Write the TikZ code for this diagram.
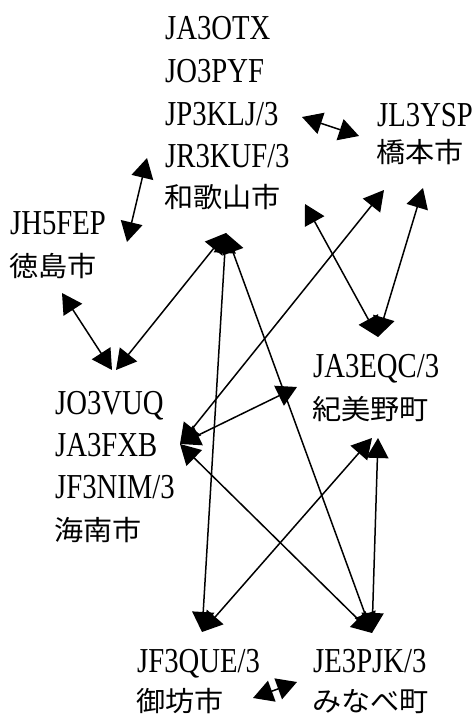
\documentclass[tikz,border=0pt]{standalone}
\usepackage{fontspec}
\setmainfont{Liberation Serif}[FakeStretch=0.82]
\newfontfamily\cjk{Noto Sans CJK JP}[FakeStretch=1.06]
\usetikzlibrary{arrows.meta}
\begin{document}
\begin{tikzpicture}[x=1pt,y=-1pt,
  lat/.style={anchor=base west, inner sep=0pt, font=\fontsize{35}{42}\selectfont},
  jp/.style={anchor=base west, inner sep=0pt, font=\cjk\fontsize{27.5}{32}\selectfont},
  link/.style={{Triangle[length=20pt,width=22pt]}-{Triangle[length=20pt,width=22pt]}, line width=1.5pt}]
\useasboundingbox (0,0) rectangle (473,715);
% labels
\node[lat] (a1) at (165,39) {JA3OTX};
\node[lat] (a2) at (165,82) {JO3PYF};
\node[lat] (a3) at (165,125) {JP3KLJ/3};
\node[lat] (a4) at (165,167) {JR3KUF/3};
\node[jp]  (a5) at (164,207) {和歌山市};
\node[lat] (b1) at (377,126) {JL3YSP};
\node[jp]  (b2) at (376,162) {橋本市};
\node[lat] (c1) at (10,234) {JH5FEP};
\node[jp]  (c2) at (9,276) {徳島市};
\node[lat] (d1) at (55,414) {JO3VUQ};
\node[lat] (d2) at (55,456) {JA3FXB};
\node[lat] (d3) at (55,498) {JF3NIM/3};
\node[jp]  (d4) at (54,540) {海南市};
\node[lat] (e1) at (313,377) {JA3EQC/3};
\node[jp]  (e2) at (312,419) {紀美野町};
\node[lat] (f1) at (137,672) {JF3QUE/3};
\node[jp]  (f2) at (136,711) {御坊市};
\node[lat] (g1) at (313,672) {JE3PJK/3};
\node[jp]  (g2) at (312,711) {みなべ町};
% connector end points
\coordinate (aR) at (302,117);
\coordinate (bL) at (359,136);
\coordinate (aL) at (147,158);
\coordinate (cR) at (127,242);
\coordinate (cB) at (62,293);
\coordinate (dT1) at (112,370);
\coordinate (dT2) at (116,370);
\coordinate (aHub) at (226,233);
\coordinate (fHub) at (202,632);
\coordinate (gHub) at (372,633);
\coordinate (aBR) at (305,204);
\coordinate (eTop) at (378,337);
\coordinate (bB1) at (423,188);
\coordinate (bB2) at (384,190);
\coordinate (dR) at (180,444);
\coordinate (eL) at (297,387);
\coordinate (eBot1) at (372,438);
\coordinate (eBot2) at (378,438);
\coordinate (fR) at (253,698);
\coordinate (gL) at (297,682);
% connectors
\draw[link] (aR) -- (bL);
\draw[link] (aL) -- (cR);
\draw[link] (cB) -- (dT1);
\draw[link] (aHub) -- (dT2);
\draw[link] (aHub) -- (fHub);
\draw[link] (aHub) -- (gHub);
\draw[link] (aBR) -- (eTop);
\draw[link] (bB1) -- (eTop);
\draw[link] (bB2) -- (dR);
\draw[link] (eL) -- (dR);
\draw[link] (gHub) -- (dR);
\draw[link] (eBot1) -- (fHub);
\draw[link] (eBot2) -- (gHub);
\draw[link] (fR) -- (gL);
\end{tikzpicture}
\end{document}
